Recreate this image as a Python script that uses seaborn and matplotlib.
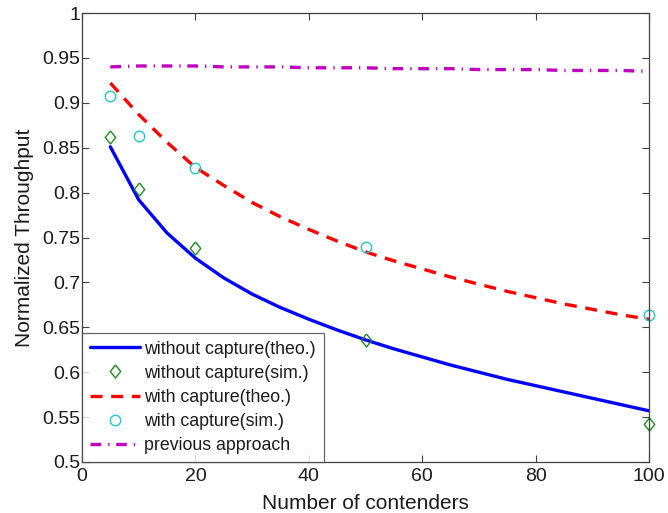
import numpy as np
import pandas as pd
import matplotlib
matplotlib.use("Agg")
import matplotlib.pyplot as plt
import seaborn as sns

# Data
x_theo = [5, 10, 15, 20, 25, 30, 35, 40, 45, 50, 55, 60, 65, 70, 75, 80, 85, 90, 95, 100]
no_cap_theo = [0.851, 0.792, 0.755, 0.727, 0.705, 0.687, 0.672, 0.659, 0.647, 0.636,
               0.626, 0.617, 0.608, 0.600, 0.592, 0.585, 0.578, 0.571, 0.564, 0.557]
cap_theo = [0.922, 0.887, 0.856, 0.828, 0.808, 0.789, 0.773, 0.759, 0.746, 0.734,
            0.724, 0.715, 0.706, 0.698, 0.690, 0.683, 0.676, 0.670, 0.664, 0.659]
prev_approach = [0.940, 0.941, 0.941, 0.941, 0.940, 0.940, 0.940, 0.939, 0.939, 0.939,
                 0.938, 0.938, 0.938, 0.937, 0.937, 0.937, 0.936, 0.936, 0.936, 0.935]
x_sim = [5, 10, 20, 50, 100]
no_cap_sim = [0.862, 0.804, 0.738, 0.636, 0.542]
cap_sim = [0.908, 0.863, 0.827, 0.739, 0.664]

x_ticks = [0, 20, 40, 60, 80, 100]
y_ticks = [0.5, 0.55, 0.6, 0.65, 0.7, 0.75, 0.8, 0.85, 0.9, 0.95, 1.0]
y_tick_labels = ["0.5", "0.55", "0.6", "0.65", "0.7", "0.75", "0.8", "0.85", "0.9", "0.95", "1"]

sns.set_theme(style="white")
plt.rcParams['font.family'] = ['Liberation Sans', 'DejaVu Sans']

fig = plt.figure(figsize=(6.68, 5.13), dpi=100)
ax = fig.add_axes([82/668, 1 - 462/513, (649-82)/668, (462-13)/513])

diamond = [(0, 1), (0.8, 0), (0, -1), (-0.8, 0), (0, 1)]

sns.lineplot(x=x_theo, y=no_cap_theo, ax=ax, color='#0000FF', linewidth=2.4,
             label='without capture(theo.)')
sns.lineplot(x=x_sim, y=no_cap_sim, ax=ax, color='#1E8C1E', linestyle='none',
             marker=diamond, markersize=9.4, markerfacecolor='none', markeredgecolor='#1E8C1E',
             markeredgewidth=1.0, clip_on=False, label='without capture(sim.)')
sns.lineplot(x=x_theo, y=cap_theo, ax=ax, color='#FF0000', linewidth=2.4,
             linestyle=(0, (3.6, 2.6)), label='with capture(theo.)')
sns.lineplot(x=x_sim, y=cap_sim, ax=ax, color='#1EC8C8', linestyle='none',
             marker='o', markersize=7.5, markerfacecolor='none', markeredgecolor='#1EC8C8',
             markeredgewidth=1.0, clip_on=False, label='with capture(sim.)')
sns.lineplot(x=x_theo, y=prev_approach, ax=ax, color='#C000C0', linewidth=2.4,
             linestyle=(0, (3.2, 2.1, 0.4, 2.0)), label='previous approach')

ax.set_xlim(0, 100)
ax.set_ylim(0.5, 1.0)
ax.set_xticks(x_ticks)
ax.set_xticklabels([str(t) for t in x_ticks])
ax.set_yticks(y_ticks)
ax.set_yticklabels(y_tick_labels)
ax.tick_params(axis='both', which='both', direction='in', length=5, width=0.8,
               labelsize=14, colors='#404040', labelcolor='#1a1a1a',
               top=True, right=True, bottom=True, left=True)
ax.tick_params(axis='y', pad=1.5)
ax.tick_params(axis='x', pad=4)
for s in ax.spines.values():
    s.set_color('#404040')
    s.set_linewidth(0.9)
    s.set_visible(True)

ax.set_xlabel('Number of contenders', fontsize=15, color='#1a1a1a', labelpad=7)
ax.set_ylabel('Normalized Throughput', fontsize=15, color='#1a1a1a', labelpad=6)

leg = ax.legend(loc='lower left', fontsize=12.8, frameon=True, fancybox=False,
                edgecolor='#404040', borderaxespad=0.0, handlelength=2.8,
                handletextpad=0.25, labelspacing=0.4, borderpad=0.45)
leg.get_frame().set_linewidth(0.9)
for t in leg.get_texts():
    t.set_color('#1a1a1a')

fig.savefig('out.png', dpi=100)
